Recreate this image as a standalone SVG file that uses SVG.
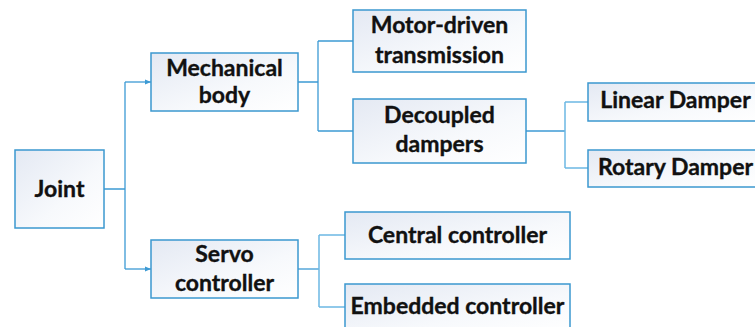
<svg xmlns="http://www.w3.org/2000/svg" width="755" height="327" viewBox="0 0 755 327">
<defs>
<linearGradient id="g" x1="0" y1="0" x2="1" y2="1">
<stop offset="0" stop-color="#e4e9f3"/>
<stop offset="0.6" stop-color="#f7f9fc"/>
<stop offset="1" stop-color="#ffffff"/>
</linearGradient>
<marker id="ah" viewBox="0 0 6 6" refX="6" refY="3" markerWidth="6" markerHeight="6" orient="auto" markerUnits="userSpaceOnUse">
<path d="M0,0.5 L6,3 L0,5.5 z" fill="#3c9ad4"/>
</marker>
</defs>
<style>
.box{fill:url(#g);stroke:#3b98cf;stroke-width:1.5}
.t{font-family:Lato,"Open Sans","Liberation Sans",sans-serif;font-weight:bold;font-size:23px;fill:#111;stroke:#111;stroke-width:0.35;text-anchor:middle}
.c{fill:none;stroke:#3c9ad4;stroke-width:1.3}
.c2{fill:none;stroke:#6cb8e4;stroke-width:1.5}
</style>
<g id="connectors">
<path class="c" d="M104,189 H125 M125,82 V269"/>
<path class="c" d="M125,82 H151" marker-end="url(#ah)"/>
<path class="c" d="M125,269 H151" marker-end="url(#ah)"/>
<path class="c" d="M298,82 H318 M318,41 V131 M318,41 H353 M318,131 H353"/>
<path class="c" d="M526,131 H565"/>
<path class="c2" d="M565,102 V168 M565,102 H588 M565,168 H588"/>
<path class="c" d="M298,269 H319"/>
<path class="c2" d="M319,235 V307 M319,235 H345 M319,307 H345"/>
</g>
<g id="joint"><rect class="box" x="15" y="150" width="89" height="78"/><text class="t" x="59.5" y="197">Joint</text></g>
<g id="mechanical"><rect class="box" x="151" y="53" width="147" height="58"/><text class="t" x="224.5" y="76">Mechanical</text><text class="t" x="224.5" y="103">body</text></g>
<g id="servo"><rect class="box" x="151" y="240" width="147" height="58"/><text class="t" x="224.5" y="262">Servo</text><text class="t" x="224.5" y="291">controller</text></g>
<g id="motor"><rect class="box" x="353" y="10" width="173" height="62"/><text class="t" x="439.5" y="33">Motor-driven</text><text class="t" x="439.5" y="63">transmission</text></g>
<g id="decoupled"><rect class="box" x="353" y="99" width="173" height="64"/><text class="t" x="439.5" y="123">Decoupled</text><text class="t" x="439.5" y="152">dampers</text></g>
<g id="linear"><rect class="box" x="588" y="83" width="170" height="38"/><text class="t" x="675.5" y="108">Linear Damper</text></g>
<g id="rotary"><rect class="box" x="588" y="150" width="170" height="37"/><text class="t" x="675.5" y="175">Rotary Damper</text></g>
<g id="central"><rect class="box" x="345" y="212" width="225" height="47"/><text class="t" x="457.5" y="243">Central controller</text></g>
<g id="embedded"><rect class="box" x="345" y="284" width="225" height="50"/><text class="t" x="457.5" y="314">Embedded controller</text></g>
</svg>
